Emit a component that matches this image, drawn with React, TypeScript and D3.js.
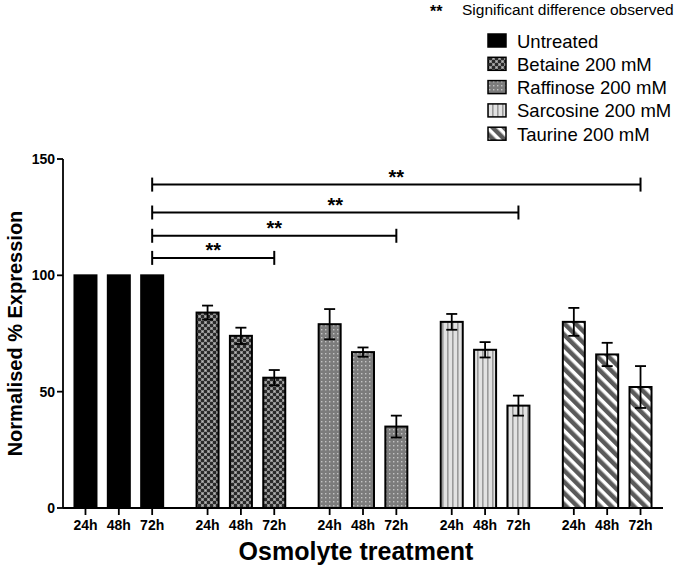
import React from "react";
import * as d3 from "d3";

const groups = ["Untreated", "Betaine 200 mM", "Raffinose 200 mM", "Sarcosine 200 mM", "Taurine 200 mM"];
const times = ["24h", "48h", "72h"];
const untreatedValues = [100, 100, 100];
const betaineValues = [84, 74, 56];
const raffinoseValues = [79, 67, 35];
const sarcosineValues = [80, 68, 44];
const taurineValues = [80, 66, 52];
const untreatedErr = [0, 0, 0];
const betaineErr = [3, 3.5, 3.3];
const raffinoseErr = [6.5, 2, 4.7];
const sarcosineErr = [3.4, 3.3, 4.3];
const taurineErr = [6, 5, 9];
const yTicks = [0, 50, 100, 150];
// significance brackets: from group 0 / 72h to group g / 72h at height y
const sigTargets = [1, 2, 3, 4];
const sigHeights = [107.5, 117, 127, 139];

const values = [untreatedValues, betaineValues, raffinoseValues, sarcosineValues, taurineValues];
const errors = [untreatedErr, betaineErr, raffinoseErr, sarcosineErr, taurineErr];
const fills = ["#000", "url(#pBetaine)", "url(#pRaffinose)", "url(#pSarcosine)", "url(#pTaurine)"];

const FONT = "'Liberation Sans', Arial, sans-serif";

export default function App() {
  const W = 685, H = 572;
  const x0 = 63, x1 = 663, yTop = 159, yBot = 508;
  const y = d3.scaleLinear().domain([0, 150]).range([yBot, yTop]);
  const gx = d3.scaleBand<string>().domain(groups).range([x0, x1]).paddingInner(0.2735).paddingOuter(0.094);
  const bx = d3.scaleBand<string>().domain(times).range([0, gx.bandwidth()]).paddingInner(0.34).paddingOuter(0);
  const bw = bx.bandwidth();
  const cx = (g: number, t: number) => (gx(groups[g]) as number) + (bx(times[t]) as number) + bw / 2;

  return (
    <svg width={W} height={H} style={{ position: "absolute", left: 0, top: 0, background: "#fff" }} fontFamily={FONT}>
      <defs>
        <pattern id="pBetaine" width="6" height="6" patternUnits="userSpaceOnUse">
          <rect width="6" height="6" fill="#8a8a8a" />
          <rect x="0" y="0" width="3" height="3" fill="#2a2a2a" />
          <rect x="3" y="3" width="3" height="3" fill="#2a2a2a" />
          <rect x="4" y="1" width="1" height="1" fill="#bbb" />
          <rect x="1" y="4" width="1" height="1" fill="#bbb" />
        </pattern>
        <pattern id="pRaffinose" width="4" height="4" patternUnits="userSpaceOnUse">
          <rect width="4" height="4" fill="#7c7c7c" />
          <rect x="1" y="1" width="1.4" height="1.4" fill="#c4c4c4" />
        </pattern>
        <pattern id="pSarcosine" width="5" height="5" patternUnits="userSpaceOnUse">
          <rect width="5" height="5" fill="#e2e2e2" />
          <rect x="2" y="0" width="1.6" height="5" fill="#9a9a9a" />
        </pattern>
        <pattern id="pTaurine" width="8" height="8" patternUnits="userSpaceOnUse" patternTransform="rotate(-45)">
          <rect width="8" height="8" fill="#fff" />
          <rect x="0" y="0" width="4.5" height="8" fill="#5a5a5a" />
        </pattern>
      </defs>

      {/* top note */}
      <text x={430} y={17} fontSize={16} fontWeight="bold">**</text>
      <text x={462} y={15} fontSize={15.5}>Significant difference observed</text>

      {/* legend */}
      {groups.map((gname, i) => {
        const cy = 41 + i * 23.3;
        return (
          <g key={gname}>
            <rect x={488} y={cy - 7} width={18} height={13} fill={fills[i]} stroke="#000" strokeWidth={1.5} />
            <text x={517} y={cy + 6.5} fontSize={18.5}>{gname}</text>
          </g>
        );
      })}

      {/* bars */}
      {values.map((vals, g) =>
        vals.map((v, t) => {
          const c = cx(g, t);
          return (
            <rect key={`b${g}${t}`} x={c - bw / 2} y={y(v)} width={bw} height={yBot - y(v)}
              fill={fills[g]} stroke="#000" strokeWidth={2} />
          );
        })
      )}
      {/* error bars */}
      {values.map((vals, g) =>
        vals.map((v, t) => {
          const e = errors[g][t];
          if (!e) return null;
          const c = cx(g, t);
          return (
            <g key={`e${g}${t}`} stroke="#000" strokeWidth={1.8}>
              <line x1={c} x2={c} y1={y(v + e)} y2={y(v - e)} />
              <line x1={c - 5.5} x2={c + 5.5} y1={y(v + e)} y2={y(v + e)} />
              <line x1={c - 5.5} x2={c + 5.5} y1={y(v - e)} y2={y(v - e)} />
            </g>
          );
        })
      )}

      {/* significance brackets */}
      {sigTargets.map((tg, i) => {
        const xa = cx(0, 2), xb = cx(tg, 2), yy = y(sigHeights[i]);
        return (
          <g key={`s${i}`}>
            <g stroke="#000" strokeWidth={2}>
              <line x1={xa} x2={xb} y1={yy} y2={yy} />
              <line x1={xa} x2={xa} y1={yy - 7} y2={yy + 7} />
              <line x1={xb} x2={xb} y1={yy - 7} y2={yy + 7} />
            </g>
            <text x={(xa + xb) / 2} y={yy - 1} fontSize={20} fontWeight="bold" textAnchor="middle">**</text>
          </g>
        );
      })}

      {/* y axis */}
      <line x1={x0} x2={x0} y1={yTop} y2={yBot} stroke="#000" strokeWidth={1.8} />
      {yTicks.map((t) => (
        <g key={`yt${t}`}>
          <line x1={x0 - 6} x2={x0} y1={y(t)} y2={y(t)} stroke="#000" strokeWidth={1.8} />
          <text x={x0 - 8} y={y(t) + 5} fontSize={14} fontWeight="bold" textAnchor="end">{t}</text>
        </g>
      ))}
      {/* x axis */}
      <line x1={x0} x2={x1} y1={yBot} y2={yBot} stroke="#000" strokeWidth={1.8} />
      {groups.map((gname, g) =>
        times.map((tm, t) => {
          const c = cx(g, t);
          return (
            <g key={`xt${g}${t}`}>
              <line x1={c} x2={c} y1={yBot} y2={yBot + 7} stroke="#000" strokeWidth={1.8} />
              <text x={c} y={530} fontSize={14} fontWeight="bold" textAnchor="middle">{tm}</text>
            </g>
          );
        })
      )}

      <text x={356} y={560} fontSize={25} fontWeight="bold" textAnchor="middle">Osmolyte treatment</text>
      <text transform={`translate(22, ${(yTop + yBot) / 2}) rotate(-90)`} fontSize={20} fontWeight="bold" textAnchor="middle">Normalised % Expression</text>
    </svg>
  );
}
